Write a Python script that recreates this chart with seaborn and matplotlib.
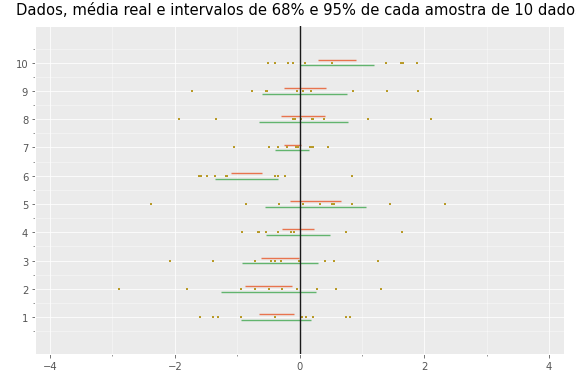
import matplotlib
matplotlib.use('Agg')
import matplotlib.pyplot as plt
import seaborn as sns
import numpy as np
import pandas as pd

# amostras de 10 dados
amostra_1 = [-1.595, -1.395, -1.308, -0.935, -0.400, 0.043, 0.103, 0.222, 0.746, 0.805]
amostra_2 = [-2.892, -1.800, -0.946, -0.714, -0.497, -0.286, -0.043, 0.286, 0.578, 1.314]
amostra_3 = [-2.081, -1.384, -0.708, -0.465, -0.389, -0.292, -0.016, 0.411, 0.551, 1.254]
amostra_4 = [-0.930, -0.670, -0.654, -0.530, -0.351, -0.130, -0.090, 0.741, 0.745, 1.643]
amostra_5 = [-2.384, -0.854, -0.335, 0.059, 0.335, 0.524, 0.546, 0.838, 1.454, 2.341]
amostra_6 = [-1.611, -1.578, -1.486, -1.351, -1.180, -1.170, -0.389, -0.346, -0.227, 0.849]
amostra_7 = [-1.043, -0.497, -0.351, -0.200, -0.059, -0.032, 0.162, 0.195, 0.211, 0.454]
amostra_8 = [-1.935, -1.335, -0.108, -0.080, 0.027, 0.195, 0.216, 0.395, 1.103, 2.114]
amostra_9 = [-1.719, -0.762, -0.535, -0.519, -0.038, 0.059, 0.189, 0.854, 1.395, 1.908]
amostra_10 = [-0.503, -0.389, -0.184, -0.103, 0.092, 0.524, 1.384, 1.627, 1.654, 1.892]
media_real = 0.0

amostras = [amostra_1, amostra_2, amostra_3, amostra_4, amostra_5,
            amostra_6, amostra_7, amostra_8, amostra_9, amostra_10]
df = pd.DataFrame([(i + 1, v) for i, a in enumerate(amostras) for v in a],
                  columns=['amostra', 'valor'])

# intervalos: media +- 1 e 2 erros padrao
stats = df.groupby('amostra')['valor'].agg(['mean', 'std', 'count'])
stats['se'] = stats['std'] / np.sqrt(stats['count'])

plt.style.use('ggplot')
plt.rcParams['axes.facecolor'] = '#ebebeb'
fig, ax = plt.subplots(figsize=(8, 5.333), dpi=72)
fig.subplots_adjust(left=0.061, right=0.979, bottom=0.076, top=0.93)

laranja = '#e8744f'
verde = '#62b46e'

y = stats.index.values
ax.hlines(y + 0.1, stats['mean'] - stats['se'], stats['mean'] + stats['se'],
          color=laranja, lw=1.4, zorder=2)
ax.hlines(y - 0.1, stats['mean'] - 2 * stats['se'], stats['mean'] + 2 * stats['se'],
          color=verde, lw=1.4, zorder=2)
sns.scatterplot(data=df, x='valor', y='amostra', marker='s', s=5, color='#b89a28',
                linewidth=0, ax=ax, zorder=3)
ax.axvline(media_real, color='#1a1a1a', lw=1.4, zorder=4)

ax.set_xlim(-4.24, 4.24)
ax.set_ylim(-0.3, 11.3)
ax.set_yticks(range(1, 11))
ax.set_xticks([-4, -2, 0, 2, 4])
ax.set_xticks([-3, -1, 1, 3], minor=True)
ax.set_yticks(np.arange(0.5, 11, 1), minor=True)
ax.grid(which='minor', color='white', alpha=0.5, lw=0.8)
ax.set_xlabel('')
ax.set_ylabel('')
ax.set_title('Dados, média real e intervalos de 68% e 95% de cada amostra de 10 dados',
             fontsize=14.8, pad=12)

fig.savefig('out.png', dpi=72)
